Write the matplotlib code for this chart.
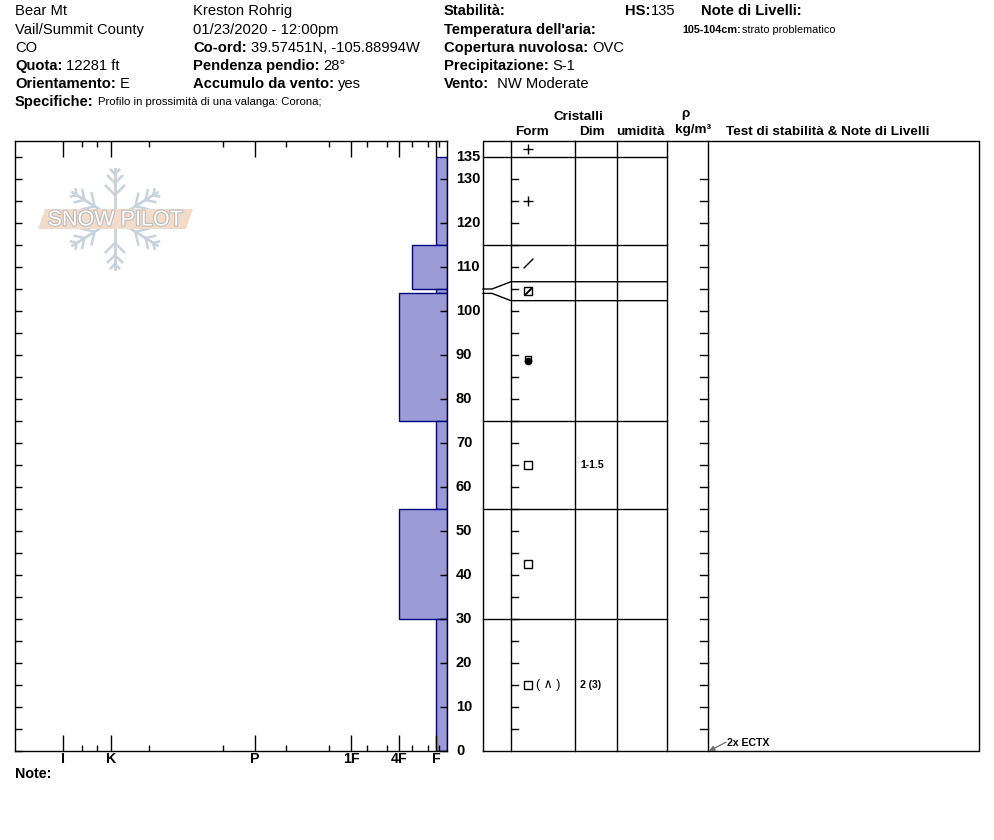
import matplotlib.pyplot as plt
import matplotlib.patheffects as pe
from matplotlib.patches import Rectangle, Polygon
from matplotlib.path import Path
import numpy as np

plt.rcParams['font.family'] = ['Liberation Sans', 'DejaVu Sans']

# ---- profile data ----
hs = 135

# hardness scale: position of each code, measured from the right edge of the plot
hard_codes = ['F-', 'F', 'F+', '4F-', '4F', '4F+', '1F-', '1F', '1F+',
              'P-', 'P', 'P+', 'K-', 'K', 'K+', 'I-', 'I']
hard_pos = [8, 11, 19, 35, 48, 60, 80, 96, 118, 161, 192, 224, 298, 336, 350, 365, 384]
major_codes = ['I', 'K', 'P', '1F', '4F', 'F']

layer_top = [135, 115, 105, 104, 75, 55, 30]
layer_bot = [115, 105, 104, 75, 55, 30, 0]
layer_hard = ['F', '4F-', 'F', '4F', 'F', '4F', 'F']
layer_form = ['PP', 'DF', 'FCxr', 'RGxf', 'FC', 'FC', 'FC_DH']
layer_size = ['', '', '', '', '1-1.5', '', '2 (3)']
surface_form = 'PP'

test_names = ['2x ECTX']
test_depths = [0]

depth_labels = list(range(0, 131, 10)) + [135]

# ---- figure layout (pixels) ----
W, H = 994, 840
PX_CM = 4.4
fig = plt.figure(figsize=(W / 100, H / 100), dpi=100)


def fig_box(x0, y0, x1, y1):
    return [x0 / W, (H - y1) / H, (x1 - x0) / W, (y1 - y0) / H]


ov = fig.add_axes([0, 0, 1, 1])
ov.set_xlim(0, W)
ov.set_ylim(H, 0)
ov.axis('off')
renderer = fig.canvas.get_renderer()


def field(x, y, label, value, size=10.6, vsize=None, gap=4):
    t = ov.text(x, y, label, fontsize=size, fontweight='bold', va='center')
    bb = t.get_window_extent(renderer)
    x1 = ov.transData.inverted().transform((bb.x1, bb.y0))[0]
    ov.text(x1 + gap, y, value, fontsize=vsize or size, va='center')


# header
ov.text(15, 11, 'Bear Mt', fontsize=10.6, va='center')
ov.text(15, 30, 'Vail/Summit County', fontsize=10.6, va='center')
ov.text(15, 48, 'CO', fontsize=10.6, va='center')
field(15, 66, 'Quota:', '12281 ft')
field(15, 84, 'Orientamento:', 'E')
field(15, 102, 'Specifiche:', 'Profilo in prossimità di una valanga: Corona;', vsize=8.2)

ov.text(193, 11, 'Kreston Rohrig', fontsize=10.6, va='center')
ov.text(193, 30, '01/23/2020 - 12:00pm', fontsize=10.6, va='center')
field(193, 48, 'Co-ord:', '39.57451N, -105.88994W')
field(193, 66, 'Pendenza pendio:', '28°')
field(193, 84, 'Accumulo da vento:', 'yes')

ov.text(444, 11, 'Stabilità:', fontsize=10.6, fontweight='bold', va='center')
ov.text(444, 30, "Temperatura dell'aria:", fontsize=10.6, fontweight='bold', va='center')
field(444, 48, 'Copertura nuvolosa:', 'OVC')
field(444, 66, 'Precipitazione:', 'S-1')
field(444, 84, 'Vento:', ' NW Moderate')
field(625, 11, 'HS:', str(hs), gap=1)
ov.text(701, 11, 'Note di Livelli:', fontsize=10.6, fontweight='bold', va='center')
field(682, 30, '105-104cm:', 'strato problematico', size=7.8, gap=1)
ov.text(15, 774, 'Note:', fontsize=10.3, fontweight='bold', va='center')

# table headings
hk = dict(fontsize=9.7, fontweight='bold', ha='center', va='center')
ov.text(578, 117, 'Cristalli', **hk)
ov.text(532, 132, 'Form', **hk)
ov.text(592, 132, 'Dim', **hk)
ov.text(640, 132, 'umidità', **hk)
ov.text(685, 114, 'ρ', **hk)
ov.text(693, 130, 'kg/m³', **hk)
ov.text(828, 132, 'Test di stabilità & Note di Livelli', **hk)

# snow pilot watermark
cx, cy = 115, 219
flake = '#c9d3db'
for ang in [90, 32, 148, 212, 270, 328]:
    a = np.radians(ang)
    d = np.array([np.cos(a), -np.sin(a)])
    ov.plot([cx, cx + 50 * d[0]], [cy, cy + 50 * d[1]], color=flake, lw=2, zorder=1)
    for r, ln in [(24, 13), (36, 10), (45, 6)]:
        p = np.array([cx, cy]) + r * d
        for s in [45, -45]:
            b = np.radians(ang + s)
            e = p + ln * np.array([np.cos(b), -np.sin(b)])
            ov.plot([p[0], e[0]], [p[1], e[1]], color=flake, lw=1.8, zorder=1)
ov.add_patch(Polygon([(38, 229), (186, 229), (193, 209), (45, 209)],
                     closed=True, fc='#f2dcc9', ec='none', zorder=2))
ov.text(cx, cy + 1, 'SNOW PILOT', fontsize=15.5, color='white', ha='center', va='center',
        zorder=3, path_effects=[pe.withStroke(linewidth=1.5, foreground='#b9b9b9')])

# ---- hardness profile ----
ymax = (751 - 141) / PX_CM
hpos = dict(zip(hard_codes, hard_pos))

ax = fig.add_axes(fig_box(15, 141, 447, 751))
ax.patch.set_alpha(0)
ax.set_xlim(447 - 15, 0)
ax.set_ylim(0, ymax)
for t, b, h in zip(layer_top, layer_bot, layer_hard):
    ax.add_patch(Rectangle((0, b), hpos[h], t - b, fc='#9b9bd6', ec='#000080', lw=1))

ax.set_xticks([hpos[c] for c in major_codes])
ax.set_xticklabels(major_codes, fontsize=10.2, fontweight='bold')
ax.set_xticks([hpos[c] for c in hard_codes if c not in major_codes], minor=True)
ax.tick_params(axis='x', which='major', direction='in', length=11.5, width=1,
               top=True, bottom=True, pad=1)
ax.tick_params(axis='x', which='minor', direction='in', length=4.3, width=1,
               top=True, bottom=True)
ax.set_yticks(range(0, 131, 10))
ax.set_yticks(range(5, 136, 10), minor=True)
ax.set_yticklabels([])
ax.tick_params(axis='y', which='major', direction='in', length=5, width=1,
               left=True, right=True)
ax.tick_params(axis='y', which='minor', direction='in', length=5, width=1,
               left=True, right=False)
for sp in ax.spines.values():
    sp.set_linewidth(1)

# ---- layer table ----
tab = fig.add_axes(fig_box(447, 141, 979, 751))
tab.axis('off')
tab.set_xlim(447, 979)
tab.set_ylim(0, ymax)

for d in depth_labels:
    tab.text(456, d, str(d), fontsize=10.5, fontweight='bold', ha='left', va='center')

# spread thin layers so they can be read
min_h = 4.3
bounds = sorted(set(layer_top + layer_bot), reverse=True)
disp = {b: b for b in bounds}
for t, b in zip(layer_top, layer_bot):
    if t - b < min_h:
        mid = (t + b) / 2
        disp[t] = mid + min_h / 2
        disp[b] = mid - min_h / 2

lk = dict(color='black', lw=1, clip_on=False)
tab.plot([483, 979, 979, 483, 483], [0, 0, ymax, ymax, 0], **lk)
for colx in [511, 575, 617, 667, 708]:
    tab.plot([colx, colx], [0, ymax], **lk)
for b in bounds:
    if b == 0:
        continue
    if disp[b] == b:
        tab.plot([483, 667], [b, b], **lk)
    else:
        tab.plot([483, 492, 511, 667], [b, b, disp[b], disp[b]], **lk)
for d in range(5, hs, 5):
    tab.plot([511, 518], [d, d], **lk)
    tab.plot([700, 708], [d, d], **lk)

slash = Path([(-0.5, -0.5), (0.5, 0.5)], [Path.MOVETO, Path.LINETO])


def grain(code, y, x=528):
    if code == 'PP':
        tab.plot(x, y, marker='+', ms=7.5, mew=1, color='black')
    elif code == 'DF':
        tab.plot(x, y, marker=slash, ms=7, mew=1, color='black')
    elif code == 'FCxr':
        tab.plot(x, y, marker='s', ms=6, mfc='none', mec='black', mew=1)
        tab.plot(x, y, marker=slash, ms=5, mew=1.4, color='black')
    elif code == 'RGxf':
        tab.plot(x, y + 0.35, marker='s', ms=4.5, mfc='none', mec='black', mew=1)
        tab.plot(x, y - 0.15, marker='o', ms=4.5, color='black')
    elif code in ('FC', 'FC_DH'):
        tab.plot(x, y, marker='s', ms=6, mfc='none', mec='black', mew=1)
        if code == 'FC_DH':
            tab.text(x + 8, y, '( \u2227 )', fontsize=9, ha='left', va='center')


grain(surface_form, (hs + ymax) / 2)
for t, b, f, s in zip(layer_top, layer_bot, layer_form, layer_size):
    yc = (disp[t] + disp[b]) / 2
    grain(f, yc)
    if s:
        tab.text(580, yc, s, fontsize=7.6, fontweight='bold', ha='left', va='center')

for name, dep in zip(test_names, test_depths):
    tab.text(727, dep + 1.8, name, fontsize=7.6, fontweight='bold', ha='left', va='center')
    tab.annotate('', xy=(709, dep), xytext=(726, dep + 2.0),
                 arrowprops=dict(arrowstyle='-|>', color='#707070', lw=0.9,
                                 mutation_scale=8, shrinkA=0, shrinkB=0))

fig.savefig('out.png', dpi=100)
